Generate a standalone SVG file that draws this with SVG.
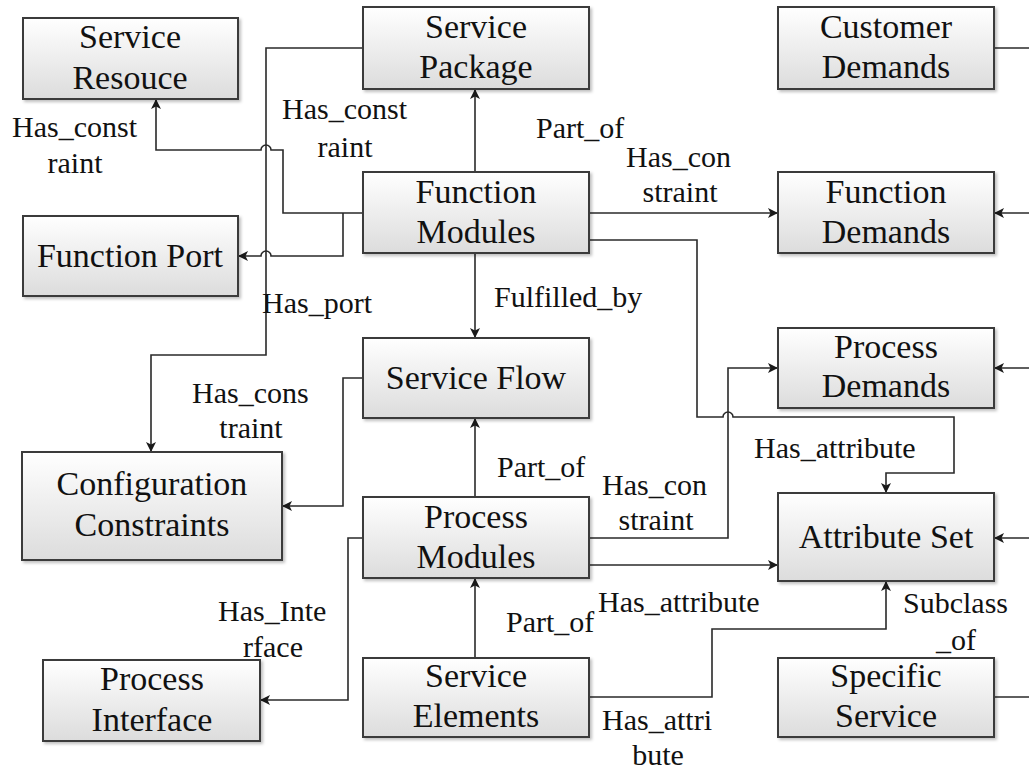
<svg xmlns="http://www.w3.org/2000/svg" width="1029" height="769" viewBox="0 0 1029 769">
<defs>
<linearGradient id="g" x1="0" y1="0" x2="0" y2="1">
<stop offset="0" stop-color="#ffffff"/>
<stop offset="1" stop-color="#dcdcdc"/>
</linearGradient>
<filter id="sh" x="-5%" y="-5%" width="112%" height="120%">
<feDropShadow dx="2" dy="2" stdDeviation="1.5" flood-color="#000" flood-opacity="0.25"/>
</filter>
<marker id="ar" viewBox="0 0 10 10" refX="10" refY="5" markerWidth="10" markerHeight="10" markerUnits="userSpaceOnUse" orient="auto">
<path d="M0,0 L10,5 L0,10 L2.5,5 z" fill="#1a1a1a"/>
</marker>
</defs>
<style>
.box{fill:url(#g);stroke:#3a3a3a;stroke-width:2;filter:url(#sh)}
.nt{font-family:"Liberation Serif","Times New Roman",serif;font-size:34px;fill:#111;text-anchor:middle}
.lb{font-family:"Liberation Serif","Times New Roman",serif;font-size:30px;fill:#111}
.c{fill:none;stroke:#2a2a2a;stroke-width:1.6}
.a{marker-end:url(#ar)}
</style>
<rect width="1029" height="769" fill="#fff"/>

<g id="connectors">
<path class="c a" d="M363,48 H266 V355 H151 V452"/>
<path class="c a" d="M363,213 H283 V150 H271 A5,5 0 0 0 261,150 H156 V99"/>
<path class="c a" d="M343,213 V256 H271 A5,5 0 0 0 261,256 H238"/>
<path class="c a" d="M475,172 V89"/>
<path class="c a" d="M589,213 H778"/>
<path class="c a" d="M589,240 H697 V417 H723 A5,5 0 0 1 733,417 H954 V473 H886 V493"/>
<path class="c a" d="M475,253 V338"/>
<path class="c a" d="M363,378 H343 V506 H282"/>
<path class="c a" d="M475,497 V418"/>
<path class="c a" d="M589,538 H728 V368 H778"/>
<path class="c a" d="M589,565 H778"/>
<path class="c a" d="M363,538 H348 V700 H260"/>
<path class="c a" d="M475,658 V578"/>
<path class="c a" d="M589,697 H712 V629 H886 V581"/>
<path class="c" d="M994,48 H1029"/>
<path class="c a" d="M1029,213 H994"/>
<path class="c a" d="M1029,368 H994"/>
<path class="c a" d="M1029,538 H994"/>
<path class="c" d="M994,697 H1029"/>
</g>

<g id="labels">
<text class="lb" x="12" y="137">Has_const</text>
<text class="lb" x="75" y="173" text-anchor="middle">raint</text>
<text class="lb" x="282" y="119">Has_const</text>
<text class="lb" x="345" y="157" text-anchor="middle">raint</text>
<text class="lb" x="536" y="138">Part_of</text>
<text class="lb" x="626" y="167">Has_con</text>
<text class="lb" x="680" y="202" text-anchor="middle">straint</text>
<text class="lb" x="262" y="313">Has_port</text>
<text class="lb" x="494" y="307">Fulfilled_by</text>
<text class="lb" x="192" y="403">Has_cons</text>
<text class="lb" x="251" y="438" text-anchor="middle">traint</text>
<text class="lb" x="754" y="458">Has_attribute</text>
<text class="lb" x="497" y="477">Part_of</text>
<text class="lb" x="602" y="495">Has_con</text>
<text class="lb" x="656" y="530" text-anchor="middle">straint</text>
<text class="lb" x="598" y="612">Has_attribute</text>
<text class="lb" x="506" y="632">Part_of</text>
<text class="lb" x="903" y="613">Subclass</text>
<text class="lb" x="956" y="650" text-anchor="middle">_of</text>
<text class="lb" x="218" y="621">Has_Inte</text>
<text class="lb" x="273" y="657" text-anchor="middle">rface</text>
<text class="lb" x="602" y="730">Has_attri</text>
<text class="lb" x="658" y="765" text-anchor="middle">bute</text>
</g>

<g id="service-resouce">
<rect class="box" x="23" y="18" width="215" height="81"/>
<text class="nt" x="130" y="48">Service</text>
<text class="nt" x="130" y="89">Resouce</text>
</g>
<g id="service-package">
<rect class="box" x="363" y="7" width="226" height="82"/>
<text class="nt" x="476" y="38">Service</text>
<text class="nt" x="476" y="78">Package</text>
</g>
<g id="customer-demands">
<rect class="box" x="778" y="7" width="216" height="82"/>
<text class="nt" x="886" y="38">Customer</text>
<text class="nt" x="886" y="78">Demands</text>
</g>
<g id="function-modules">
<rect class="box" x="363" y="172" width="226" height="81"/>
<text class="nt" x="476" y="203">Function</text>
<text class="nt" x="476" y="243">Modules</text>
</g>
<g id="function-demands">
<rect class="box" x="778" y="172" width="216" height="81"/>
<text class="nt" x="886" y="203">Function</text>
<text class="nt" x="886" y="243">Demands</text>
</g>
<g id="function-port">
<rect class="box" x="23" y="216" width="215" height="80"/>
<text class="nt" x="130" y="267">Function Port</text>
</g>
<g id="service-flow">
<rect class="box" x="363" y="338" width="226" height="80"/>
<text class="nt" x="476" y="389">Service Flow</text>
</g>
<g id="process-demands">
<rect class="box" x="778" y="328" width="216" height="80"/>
<text class="nt" x="886" y="358">Process</text>
<text class="nt" x="886" y="397">Demands</text>
</g>
<g id="configuration-constraints">
<rect class="box" x="22" y="452" width="260" height="108"/>
<text class="nt" x="152" y="495">Configuration</text>
<text class="nt" x="152" y="536">Constraints</text>
</g>
<g id="process-modules">
<rect class="box" x="363" y="497" width="226" height="81"/>
<text class="nt" x="476" y="528">Process</text>
<text class="nt" x="476" y="568">Modules</text>
</g>
<g id="attribute-set">
<rect class="box" x="778" y="493" width="216" height="88"/>
<text class="nt" x="886" y="548">Attribute Set</text>
</g>
<g id="process-interface">
<rect class="box" x="43" y="660" width="217" height="81"/>
<text class="nt" x="152" y="690">Process</text>
<text class="nt" x="152" y="731">Interface</text>
</g>
<g id="service-elements">
<rect class="box" x="363" y="658" width="226" height="79"/>
<text class="nt" x="476" y="687">Service</text>
<text class="nt" x="476" y="727">Elements</text>
</g>
<g id="specific-service">
<rect class="box" x="778" y="658" width="216" height="79"/>
<text class="nt" x="886" y="687">Specific</text>
<text class="nt" x="886" y="727">Service</text>
</g>
</svg>
